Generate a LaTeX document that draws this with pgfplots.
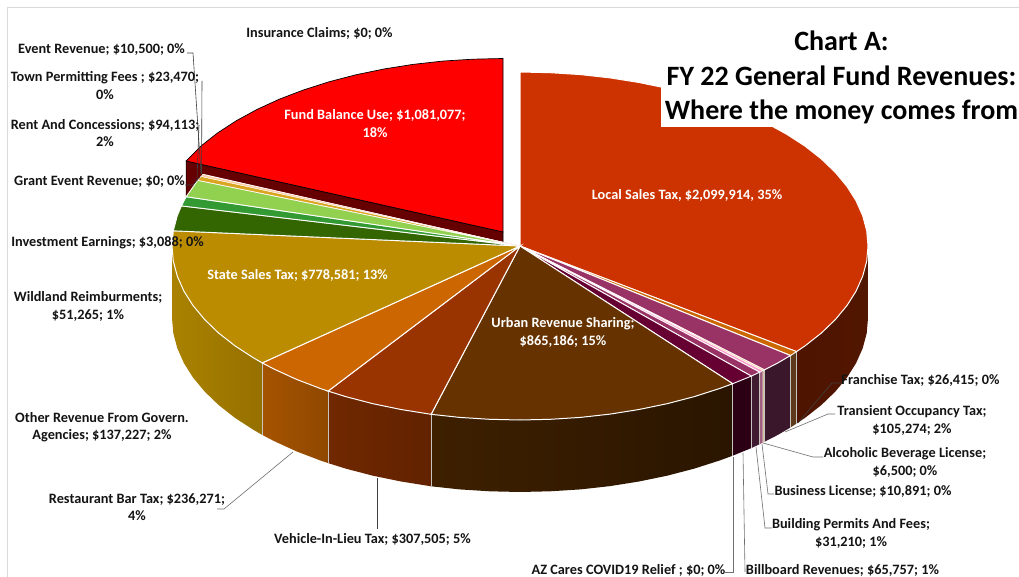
\documentclass[border=0pt]{standalone}
\usepackage{pgfplots}
\pgfplotsset{compat=1.18}
\usepackage{fontspec}
\setmainfont{Carlito}
\definecolor{txt}{HTML}{141414}
\definecolor{frame}{HTML}{D9D9D9}
\definecolor{sep}{HTML}{C8C4C0}
\definecolor{cFundS}{HTML}{660000}
\definecolor{cLocS}{HTML}{521600}
\definecolor{cLocSb}{HTML}{4E1400}
\definecolor{cFrS}{HTML}{5E3A1C}
\definecolor{cTrS}{HTML}{3B172C}
\definecolor{cAlS}{HTML}{D8C0A0}
\definecolor{cBuS}{HTML}{A06080}
\definecolor{cBdS}{HTML}{3F1A30}
\definecolor{cBiS}{HTML}{2B0015}
\definecolor{cUrSa}{HTML}{3E2000}
\definecolor{cUrSb}{HTML}{2A1500}
\definecolor{cVlSa}{HTML}{702800}
\definecolor{cVlSb}{HTML}{622200}
\definecolor{cReSa}{HTML}{A55400}
\definecolor{cReSb}{HTML}{8F4800}
\definecolor{cStSa}{HTML}{AA8200}
\definecolor{cStSb}{HTML}{967000}
\definecolor{cLoc}{HTML}{CC3300}
\definecolor{cFr}{HTML}{CC6600}
\definecolor{cTr}{HTML}{993366}
\definecolor{cAl}{HTML}{FFCC99}
\definecolor{cBu}{HTML}{FF99CC}
\definecolor{cBi}{HTML}{660033}
\definecolor{cUr}{HTML}{663300}
\definecolor{cVl}{HTML}{993300}
\definecolor{cSt}{HTML}{BB8C00}
\definecolor{cOt}{HTML}{336600}
\definecolor{cWi}{HTML}{339933}
\definecolor{cRe}{HTML}{92D050}
\definecolor{cTo}{HTML}{DAA520}
\definecolor{cIn}{HTML}{F08080}
\definecolor{lnA}{HTML}{3F3F3F}
\definecolor{lnB}{HTML}{6F6F6F}
\newcommand{\lb}[2]{\node[font=\fontsize{14.3}{17.5}\selectfont\bfseries,text=txt,align=center,inner sep=0pt] at (axis cs:#1) {#2};}
\newcommand{\wl}[2]{\node[font=\fontsize{14.3}{17.5}\selectfont\bfseries,text=white,align=center,inner sep=0pt] at (axis cs:#1) {#2};}
\begin{document}
\begin{tikzpicture}
\begin{axis}[hide axis,scale only axis,width=1019pt,height=577pt,xmin=0,xmax=1019,ymin=0,ymax=577,y dir=reverse,clip=true]
% background
\addplot[fill=white,draw=none] coordinates {(0,0)(1019,0)(1019,577)(0,577)} --cycle;
% Fund Balance side
\addplot[fill=cFundS,draw=black,line width=0.6pt] coordinates {(186.1,161)(503,232)(503,304)(186.1,233)} --cycle;
% front sides
\addplot[left color=cLocSb,right color=cLocS,draw=none] coordinates {(868,246)(866.7,261.2)(862.7,276.2)(856.1,291.1)(847,305.5)(835.4,319.5)(821.4,333)(805.1,345.8)(796.5,351.6)(796.5,423.6)(805.1,417.8)(821.4,405)(835.4,391.5)(847,377.5)(856.1,363.1)(862.7,348.2)(866.7,333.2)(868,318)} --cycle;
\addplot[fill=cFrS,draw=none] coordinates {(796.5,351.6)(790.5,355.5)(790.5,427.5)(796.5,423.6)} --cycle;
\addplot[fill=cTrS,draw=none] coordinates {(790.5,355.5)(777.7,363)(764.4,369.8)(764.4,441.8)(777.7,435)(790.5,427.5)} --cycle;
\addplot[fill=cAlS,draw=none] coordinates {(764.4,369.8)(762.7,370.7)(762.7,442.7)(764.4,441.8)} --cycle;
\addplot[fill=cBuS,draw=none] coordinates {(762.7,370.7)(759.8,372.1)(759.8,444.1)(762.7,442.7)} --cycle;
\addplot[fill=cBdS,draw=none] coordinates {(759.8,372.1)(751.3,376.1)(751.3,448.1)(759.8,444.1)} --cycle;
\addplot[fill=cBiS,draw=none] coordinates {(751.3,376.1)(732.7,383.7)(732.7,455.7)(751.3,448.1)} --cycle;
\addplot[left color=cUrSa,right color=cUrSb,draw=none] coordinates {(732.7,383.7)(719.6,388.5)(694,396.7)(667.1,403.7)(639,409.5)(610.1,414.1)(580.4,417.4)(550.3,419.3)(520,420)(489.7,419.3)(459.6,417.4)(431.1,414.3)(431.1,486.3)(459.6,489.4)(489.7,491.3)(520,492)(550.3,491.3)(580.4,489.4)(610.1,486.1)(639,481.5)(667.1,475.7)(694,468.7)(719.6,460.5)(732.7,455.7)} --cycle;
\addplot[left color=cVlSa,right color=cVlSb,draw=none] coordinates {(431.1,414.3)(401,409.5)(372.9,403.7)(346,396.7)(328.1,391.1)(328.1,463.1)(346,468.7)(372.9,475.7)(401,481.5)(431.1,486.3)} --cycle;
\addplot[left color=cReSa,right color=cReSb,draw=none] coordinates {(328.1,391.1)(320.4,388.5)(296.3,379.3)(273.9,369)(262.2,362.9)(262.2,434.9)(273.9,441)(296.3,451.3)(320.4,460.5)(328.1,463.1)} --cycle;
\addplot[left color=cStSa,right color=cStSb,draw=none] coordinates {(262.2,362.9)(253.4,357.8)(234.9,345.8)(218.6,333)(204.6,319.5)(193,305.5)(183.9,291.1)(177.3,276.2)(173.3,261.2)(172,246)(172,318)(173.3,333.2)(177.3,348.2)(183.9,363.1)(193,377.5)(204.6,391.5)(218.6,405)(234.9,417.8)(253.4,429.8)(262.2,434.9)} --cycle;
% side seams
\addplot[draw=sep,line width=0.9pt] coordinates {(796.5,351.6)(796.5,423.6)};
\addplot[draw=sep,line width=0.9pt] coordinates {(790.5,355.5)(790.5,427.5)};
\addplot[draw=sep,line width=0.7pt] coordinates {(764.4,369.8)(764.4,441.8)};
\addplot[draw=sep,line width=0.7pt] coordinates {(759.8,372.1)(759.8,444.1)};
\addplot[draw=sep,line width=0.9pt] coordinates {(751.3,376.1)(751.3,448.1)};
\addplot[draw=sep,line width=0.9pt] coordinates {(732.7,383.7)(732.7,455.7)};
\addplot[draw=sep,line width=0.9pt] coordinates {(431.1,414.3)(431.1,486.3)};
\addplot[draw=sep,line width=0.9pt] coordinates {(328.1,391.1)(328.1,463.1)};
\addplot[draw=sep,line width=0.9pt] coordinates {(262.2,362.9)(262.2,434.9)};
% top faces
\addplot[fill=cLoc,draw=white,line width=1pt] coordinates {(520,246)(520,72)(550.3,72.7)(580.4,74.6)(610.1,77.9)(639,82.5)(667.1,88.3)(694,95.3)(719.6,103.5)(743.7,112.7)(766.1,123)(786.6,134.2)(805.1,146.2)(821.4,159)(835.4,172.5)(847,186.5)(856.1,200.9)(862.7,215.8)(866.7,230.8)(868,246)(866.7,261.2)(862.7,276.2)(856.1,291.1)(847,305.5)(835.4,319.5)(821.4,333)(805.1,345.8)(796.5,351.6)} --cycle;
\addplot[fill=cFr,draw=white,line width=0.9pt] coordinates {(520,246)(796.5,351.6)(790.5,355.5)} --cycle;
\addplot[fill=cTr,draw=white,line width=1pt] coordinates {(520,246)(790.5,355.5)(777.7,363)(764.4,369.8)} --cycle;
\addplot[fill=cAl,draw=white,line width=0.5pt] coordinates {(520,246)(764.4,369.8)(762.7,370.7)} --cycle;
\addplot[fill=cBu,draw=white,line width=0.5pt] coordinates {(520,246)(762.7,370.7)(759.8,372.1)} --cycle;
\addplot[fill=cTr,draw=white,line width=0.9pt] coordinates {(520,246)(759.8,372.1)(751.3,376.1)} --cycle;
\addplot[fill=cBi,draw=white,line width=0.9pt] coordinates {(520,246)(751.3,376.1)(732.7,383.7)} --cycle;
\addplot[fill=cUr,draw=white,line width=1pt] coordinates {(520,246)(732.7,383.7)(719.6,388.5)(694,396.7)(667.1,403.7)(639,409.5)(610.1,414.1)(580.4,417.4)(550.3,419.3)(520,420)(489.7,419.3)(459.6,417.4)(431.1,414.3)} --cycle;
\addplot[fill=cVl,draw=white,line width=1pt] coordinates {(520,246)(431.1,414.3)(401,409.5)(372.9,403.7)(346,396.7)(328.1,391.1)} --cycle;
\addplot[fill=cFr,draw=white,line width=1pt] coordinates {(520,246)(328.1,391.1)(320.4,388.5)(296.3,379.3)(273.9,369)(262.2,362.9)} --cycle;
\addplot[fill=cSt,draw=white,line width=1pt] coordinates {(520,246)(262.2,362.9)(253.4,357.8)(234.9,345.8)(218.6,333)(204.6,319.5)(193,305.5)(183.9,291.1)(177.3,276.2)(173.3,261.2)(172,246)(173.3,230.8)} --cycle;
\addplot[fill=cOt,draw=white,line width=0.9pt] coordinates {(520,246)(173.3,230.8)(177.3,215.8)(181.4,205.9)} --cycle;
\addplot[fill=cWi,draw=white,line width=0.9pt] coordinates {(520,246)(181.4,205.9)(186.2,196.7)} --cycle;
\addplot[fill=cRe,draw=white,line width=0.9pt] coordinates {(520,246)(186.2,196.7)(197.7,180.3)} --cycle;
\addplot[fill=cTo,draw=white,line width=0.6pt] coordinates {(520,246)(197.7,180.3)(201.1,176.4)} --cycle;
\addplot[fill=cAl,draw=white,line width=0.4pt] coordinates {(520,246)(201.1,176.4)(202.6,174.6)} --cycle;
\addplot[fill=cIn,draw=white,line width=0.3pt] coordinates {(520,246)(202.6,174.6)(203.1,174.1)} --cycle;
% Fund Balance top
\addplot[fill=red,draw=black,line width=0.7pt] coordinates {(503,232)(186.1,161)(187.6,159.4)(201.6,145.5)(217.9,132.7)(236.4,120.7)(256.9,109.5)(279.3,99.2)(303.4,90)(329,81.8)(355.9,74.8)(384,69)(412.9,64.4)(442.6,61.1)(472.7,59.2)(503,58.5)} --cycle;
% title box and frame
\addplot[fill=white,draw=none] coordinates {(660.5,8)(1019,8)(1019,127)(660.5,127)} --cycle;
\addplot[draw=frame,line width=1pt] coordinates {(7.5,577)(7.5,7.5)(1019,7.5)};
% leader lines
\addplot[draw=lnA,line width=0.6pt] coordinates {(187,53)(193,53)(201,173)};
\addplot[draw=lnA,line width=0.6pt] coordinates {(202,81)(201.5,174)};
\addplot[draw=lnA,line width=0.6pt] coordinates {(199,125)(197,180)};
\addplot[draw=lnA,line width=0.6pt] coordinates {(185,185)(193,185)(200,177)};
\addplot[draw=lnA,line width=0.6pt] coordinates {(842,383)(832,383)(798,423)};
\addplot[draw=lnB,line width=0.6pt] coordinates {(835,414)(828,414)(785,432)};
\addplot[draw=lnB,line width=0.6pt] coordinates {(823,457)(813,457)(763,443)};
\addplot[draw=lnB,line width=0.6pt] coordinates {(774,494)(768,494)(762,444)};
\addplot[draw=lnB,line width=0.6pt] coordinates {(772,528)(765,528)(756,447)};
\addplot[draw=lnB,line width=0.6pt] coordinates {(745,572)(743,453)};
\addplot[draw=lnB,line width=0.6pt] coordinates {(725,572)(733,572)(733,457)};
\addplot[draw=lnA,line width=0.6pt] coordinates {(377,478)(377,529)};
\addplot[draw=lnB,line width=0.6pt] coordinates {(217,509)(224,509)(293,452)};
% labels
\lb{319.5,33}{Insurance Claims; \$0; 0\%}
\lb{101.5,50}{Event Revenue; \$10,500; 0\%}
\lb{105,85.5}{Town Permitting Fees ; \$23,470;\\0\%}
\lb{105,133}{Rent And Concessions; \$94,113;\\2\%}
\lb{99.5,182}{Grant Event Revenue; \$0; 0\%}
\lb{107.5,243}{Investment Earnings; \$3,088; 0\%}
\lb{88,306.5}{Wildland Reimburments;\\\$51,265; 1\%}
\lb{102,427}{Other Revenue From Govern.\\Agencies; \$137,227; 2\%}
\lb{137,507}{Restaurant Bar Tax; \$236,271;\\4\%}
\lb{372.5,539}{Vehicle-In-Lieu Tax; \$307,505; 5\%}
\lb{628.5,570.5}{AZ Cares COVID19 Relief ; \$0; 0\%}
\lb{842.5,570.5}{Billboard Revenues; \$65,757; 1\%}
\lb{851,533.5}{Building Permits And Fees;\\\$31,210; 1\%}
\lb{863,491}{Business License; \$10,891; 0\%}
\lb{905,462.5}{Alcoholic Beverage License;\\\$6,500; 0\%}
\lb{912,420.5}{Transient Occupancy Tax;\\\$105,274; 2\%}
\lb{920.5,380}{Franchise Tax; \$26,415; 0\%}
\wl{375,123.5}{Fund Balance Use; \$1,081,077;\\18\%}
\wl{687,195}{Local Sales Tax, \$2,099,914, 35\%}
\wl{297.5,275}{State Sales Tax; \$778,581; 13\%}
\wl{563,332.5}{Urban Revenue Sharing;\\\$865,186; 15\%}
\node[font=\fontsize{28}{34.5}\selectfont\bfseries,text=black,align=center,inner sep=0pt] at (axis cs:841.5,77.5) {Chart A:\\FY 22 General Fund Revenues:\\Where the money comes from};
\end{axis}
\end{tikzpicture}
\end{document}
